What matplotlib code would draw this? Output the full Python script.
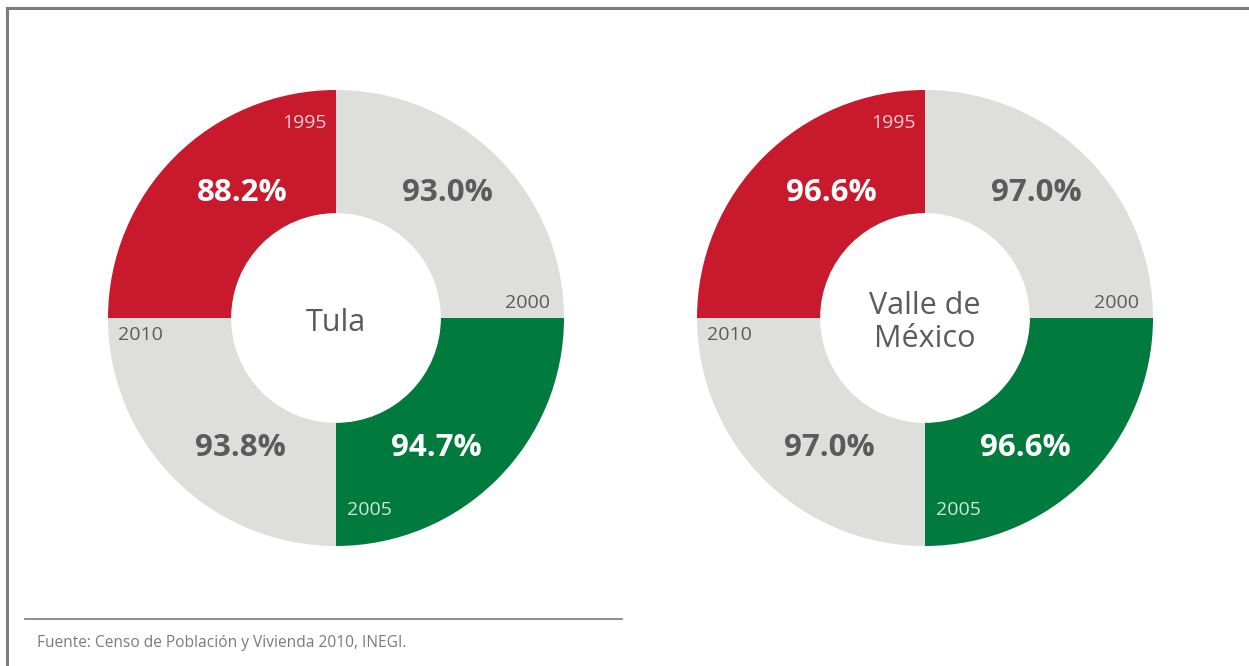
import matplotlib
matplotlib.use('Agg')
import matplotlib.pyplot as plt
from matplotlib.lines import Line2D

# ─────────────────────────────────────────────
# Data
# ─────────────────────────────────────────────
years     = ["1995", "2000", "2005", "2010"]
regions   = ["Tula", "Valle de\nMéxico"]
tula      = [88.2, 93.0, 94.7, 93.8]
valle     = [96.6, 97.0, 96.6, 97.0]
source    = "Fuente: Censo de Población y Vivienda 2010, INEGI."

RED   = "#c8192d"
GREY  = "#dededd"
GREEN = "#007a3d"
DARK  = "#5b5b5d"
WEDGE_COLORS = [RED, GREY, GREEN, GREY]
VALUE_COLORS = ["white", DARK, "white", DARK]
YEAR_COLORS  = ["#f6cdd0", DARK, "#cfe8d8", DARK]

# label placement per quadrant (in pie radius units)
VALUE_POS = [(-0.41, 0.55), (0.487, 0.55), (0.44, -0.57), (-0.42, -0.57)]
YEAR_POS  = [(-0.04, 0.855, 'right'), (0.94, 0.066, 'right'),
             (0.048, -0.84, 'left'), (-0.956, -0.075, 'left')]

W, H = 1249, 666
FONT = "Open Sans"

fig = plt.figure(figsize=(W / 100, H / 100), dpi=100)
fig.patch.set_facecolor('white')


def donut(cx, cy, r, values, name):
    ax = fig.add_axes([(cx - r) / W, (H - cy - r) / H, 2 * r / W, 2 * r / H])
    ax.pie([1] * len(values), colors=WEDGE_COLORS, startangle=180,
           counterclock=False, radius=1,
           wedgeprops=dict(width=0.54, edgecolor='none'))
    ax.set_xlim(-1, 1)
    ax.set_ylim(-1, 1)
    ax.set_aspect('equal')
    ax.axis('off')
    for i, v in enumerate(values):
        x, y = VALUE_POS[i]
        ax.text(x, y, f"{v:.1f}%", ha='center', va='center',
                color=VALUE_COLORS[i], fontsize=22.5, fontweight='bold', family=FONT)
        yx, yy, ha = YEAR_POS[i]
        ax.text(yx, yy, years[i], ha=ha, va='center',
                color=YEAR_COLORS[i], fontsize=14, family=FONT)
    ax.text(0, -0.02, name, ha='center', va='center', color=DARK,
            fontsize=22, family=FONT, linespacing=1.1)


donut(336, 318, 228, tula, regions[0])
donut(925, 318, 228, valle, regions[1])

# frame (top + left) and footer rule
fig.add_artist(Line2D([6.5 / W, 1], [1 - 8 / H, 1 - 8 / H], color='#7d7d7d', lw=2.2))
fig.add_artist(Line2D([7 / W, 7 / W], [0, 1 - 8 / H], color='#7d7d7d', lw=2.2))
fig.add_artist(Line2D([25 / W, 622 / W], [1 - 619 / H, 1 - 619 / H], color='#7a7a7a', lw=1.2))
fig.text(37 / W, 1 - 643 / H, source, ha='left', va='center',
         color='#7a7a7a', fontsize=11.2, family=FONT)

plt.savefig('out.png', dpi=100, facecolor=fig.get_facecolor())
plt.close()
